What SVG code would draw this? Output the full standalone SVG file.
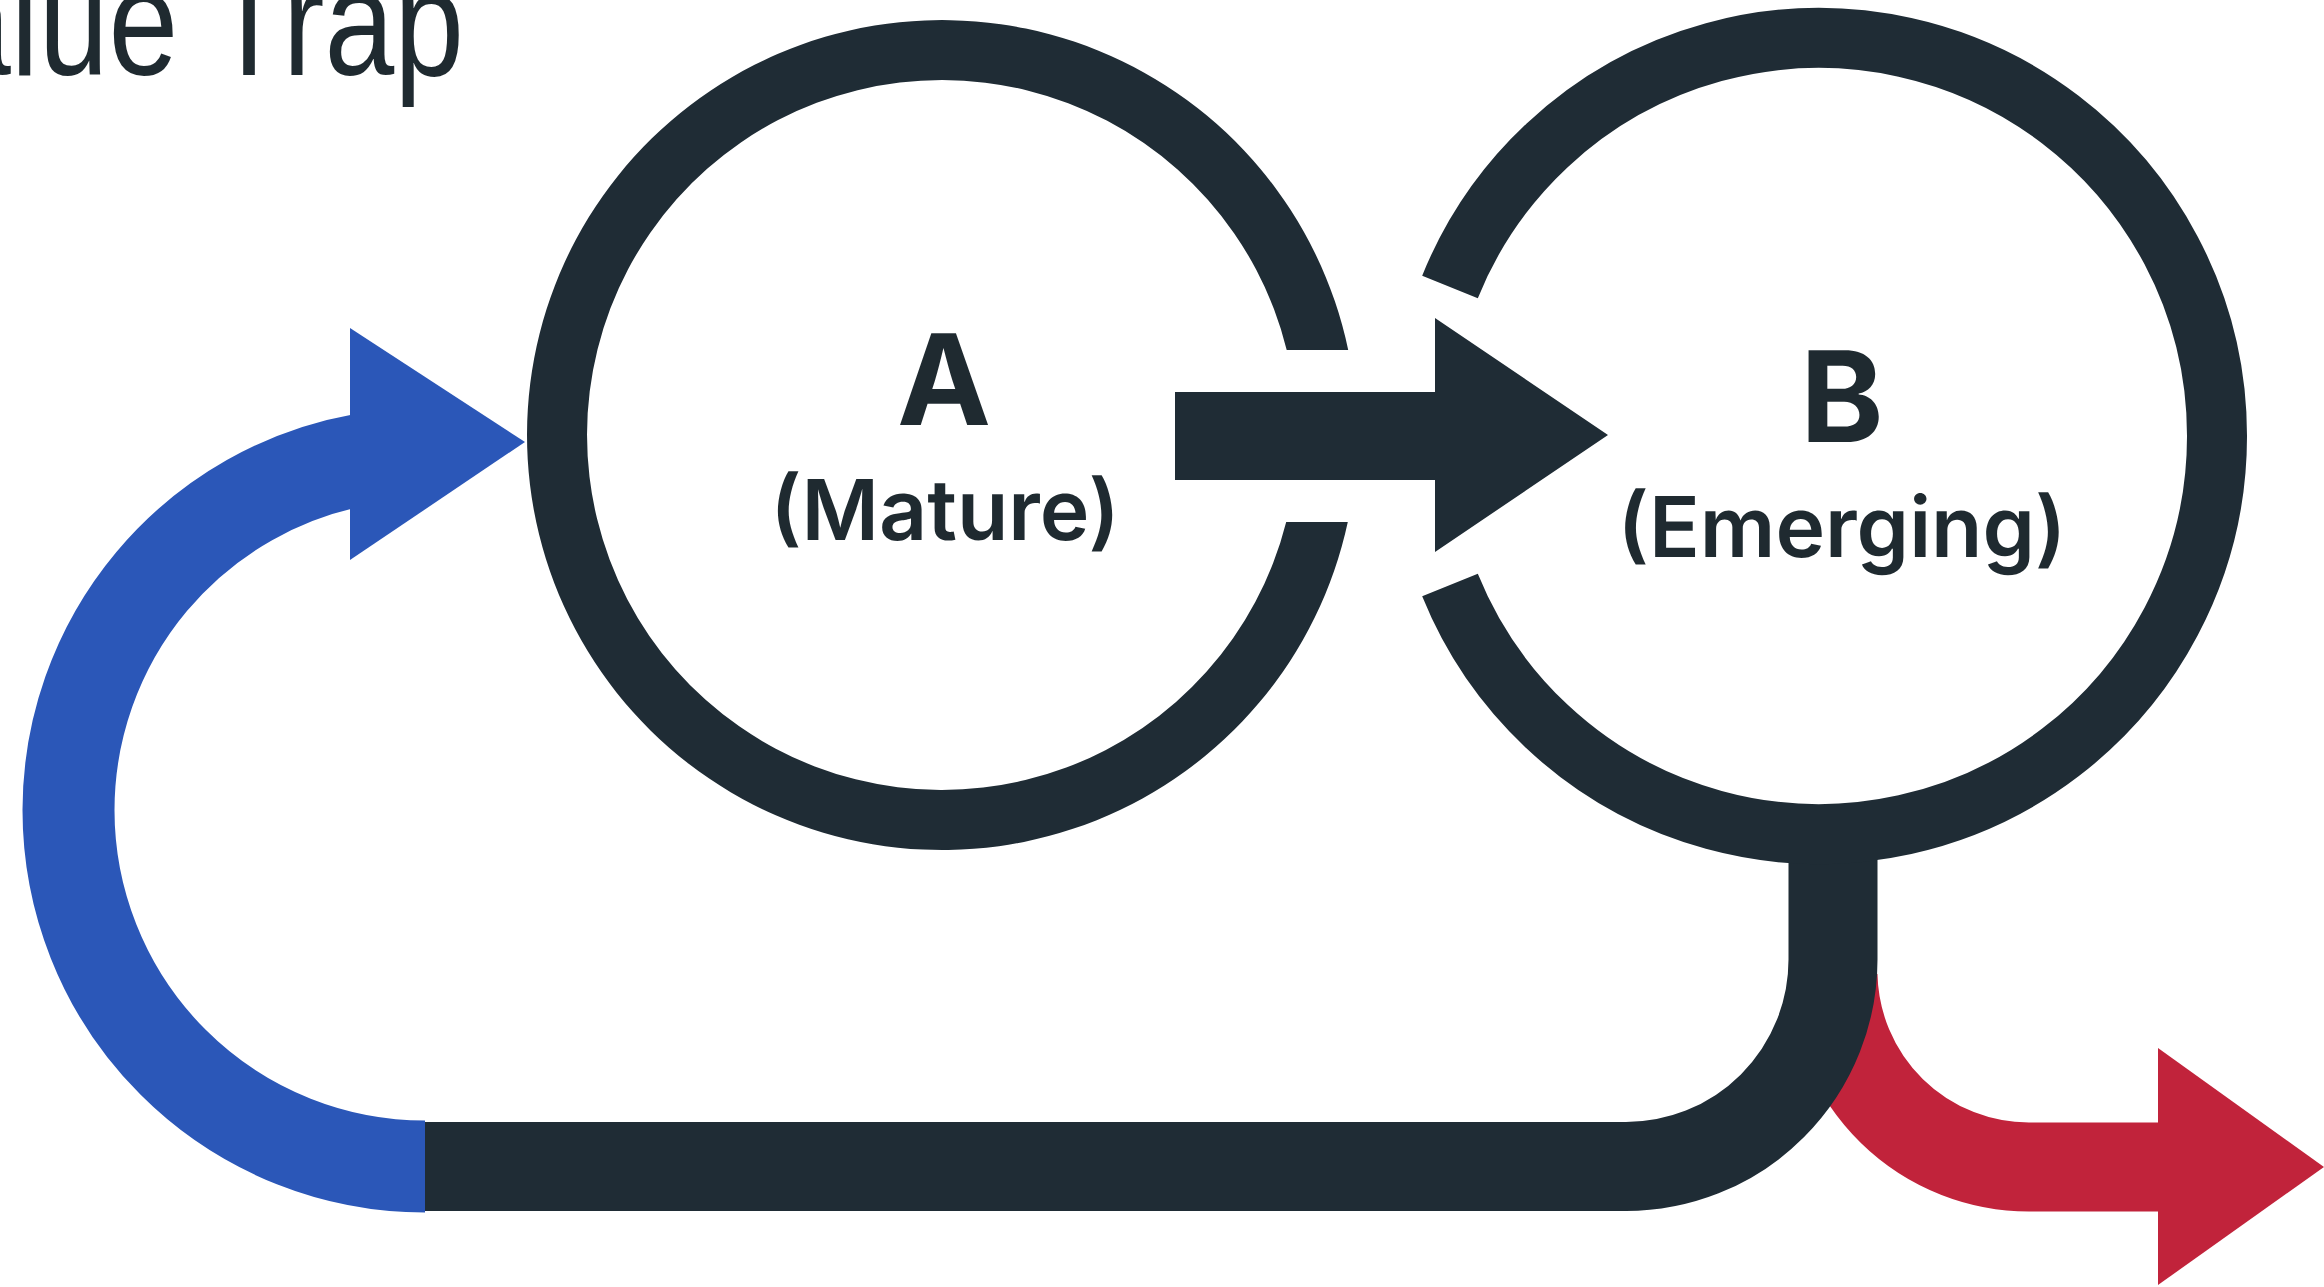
<svg xmlns="http://www.w3.org/2000/svg" width="2324" height="1287" viewBox="0 0 2324 1287">
  <style>
    .ring { fill: none; stroke: #1f2c35; stroke-width: 60; }
    .ringfill { fill: #1f2c35; }
    .dark { fill: #1f2c35; }
    .lbl { font-family: Inter, "Noto Sans", "Liberation Sans", sans-serif; fill: #1f2a30; text-anchor: middle; text-rendering: geometricPrecision; }
    .big { font-size: 126px; font-weight: 700; }
    .sub { font-size: 84px; font-weight: 600; }
    .title { font-family: "Liberation Sans", Arial, sans-serif; font-size: 153px; fill: #1f2a30; }
  </style>
  <rect width="2324" height="1287" fill="#ffffff"/>

  <g id="title">
    <text class="title" transform="scale(0.82,1)" x="566" y="75" text-anchor="end">alue Trap</text>
  </g>

  <g id="connectors">
    <!-- red exit arrow (beneath dark) -->
    <path d="M1833,975 A196 196 0 0 0 2029,1167 L2168,1167" fill="none" stroke="#c1233b" stroke-width="89"/>
    <polygon points="2158,1048 2324,1167 2158,1285" fill="#c1233b"/>
    <!-- blue return arrow -->
    <path d="M425,1166.5 A356.5 356.5 0 0 1 68.5,810 A356.5 356.5 0 0 1 362,459.5" fill="none" stroke="#2b57b8" stroke-width="92"/>
    <polygon points="350,328 525,442 350,560" fill="#2b57b8"/>
    <!-- dark loop from B down and back -->
    <path d="M425,1166.5 L1626,1166.5 A207 207 0 0 0 1833,959.5 L1833,840" fill="none" stroke="#1f2c35" stroke-width="89"/>
    <!-- A to B arrow -->
    <path class="dark" d="M1175,392 H1435 V318 L1608,435 L1435,552 V480 H1175 Z"/>
  </g>

  <g id="node-A">
    <path class="ringfill" d="M1348.2,350 A415 415 0 1 0 1347.8,522 L1286.2,522 A355 355 0 1 1 1286.7,350 Z"/>
    <text class="lbl big" x="944" y="425">A</text>
    <text class="lbl sub" x="945" y="540">(Mature)</text>
  </g>

  <g id="node-B">
    <path class="ring" d="M1450,286.9 A398 398 0 1 1 1450,585.1"/>
    <text class="lbl big" x="1842" y="442">B</text>
    <text class="lbl sub" x="1842" y="557">(Emerging)</text>
  </g>
</svg>
